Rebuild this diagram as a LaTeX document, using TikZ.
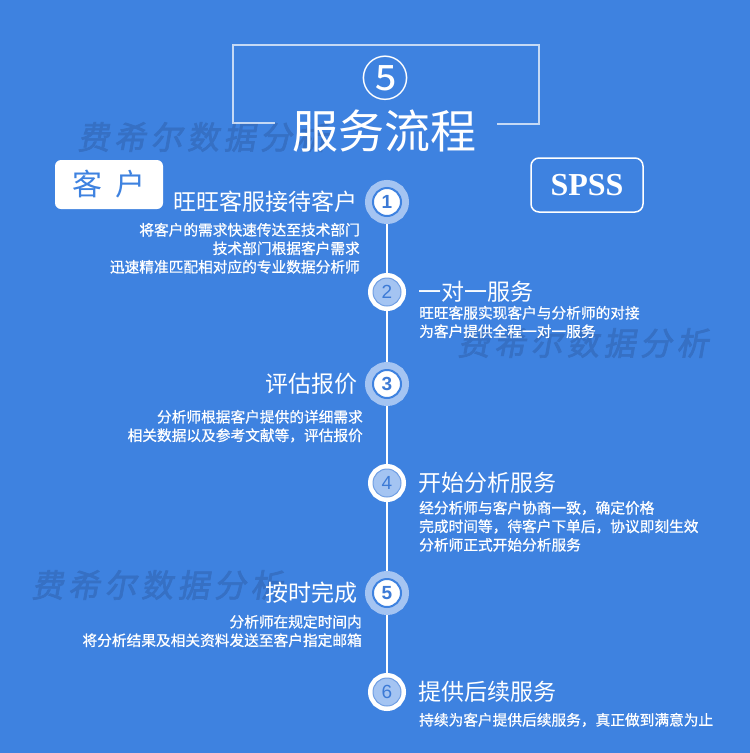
\documentclass[tikz,border=0pt]{standalone}
\usepackage{fontspec}
\usetikzlibrary{positioning}
\newfontfamily\cjk{Noto Sans CJK SC}
\newfontfamily\cjkdesc[FakeBold=0.8]{Noto Sans CJK SC}
\newfontfamily\markfont[FakeBold=2,FakeSlant=0.18,LetterSpace=14]{Noto Sans CJK SC}
\newfontfamily\numfont{Liberation Sans}
\newfontfamily\spssfont{Liberation Serif}
\definecolor{FlowBlue}{HTML}{3E82E0}
\definecolor{RingBlue}{HTML}{A4C4F2}
\definecolor{NumBlue}{HTML}{3C7AD6}
\definecolor{MarkBlue}{HTML}{3670C4}

\tikzset{
  stepodd/.style={circle,minimum size=28pt,inner sep=0pt,outer sep=8pt,
    fill=white,draw=FlowBlue,line width=2pt,preaction={draw=RingBlue,line width=16pt},
    text=NumBlue,font=\numfont\bfseries\fontsize{19}{19}\selectfont},
  stepeven/.style={circle,minimum size=28pt,inner sep=0pt,outer sep=5pt,
    fill=RingBlue,draw=NumBlue!50!RingBlue,line width=1pt,preaction={draw=white,line width=10pt},
    text=NumBlue,font=\numfont\fontsize{19}{19}\selectfont},
  steptitle/.style={inner sep=0pt,text=white,font=\cjk\fontsize{23}{23}\selectfont},
  stepdesc/.style={inner sep=0pt,text=white,font=\cjkdesc\fontsize{14.7}{18.5}\selectfont},
  watermark/.style={inner sep=0pt,text=MarkBlue,font=\markfont\fontsize{32}{32}\selectfont}
}

\begin{document}
\begin{tikzpicture}[x=1pt,y=-1pt]
  \useasboundingbox (0,0) rectangle (750,753);
  \fill[FlowBlue] (0,0) rectangle (750,753);

  % watermarks
  \node[watermark] (wm1) at (203,137) {费希尔数据分析};
  \node[watermark] (wm2) at (583,343) {费希尔数据分析};
  \node[watermark] (wm3) at (157,585) {费希尔数据分析};

  % heading
  \draw[white,opacity=.7,line width=1.5pt] (275,123) -- (233,123) -- (233,45)
      -- (539,45) -- (539,124) -- (497,124);
  \node[inner sep=0pt,text=white,font=\cjk\fontsize{48}{48}\selectfont] (no) at (385,78) {⑤};
  \node[inner sep=0pt,text=white,font=\cjk\fontsize{46}{46}\selectfont] (head) at (384,131) {服务流程};

  \node[fill=white,rounded corners=6pt,minimum width=108pt,minimum height=49pt,
      text=FlowBlue,font=\cjk\fontsize{30}{30}\selectfont] (client) at (109,184.5) {客\hspace{14pt}户};
  \node[draw=white,line width=1.5pt,rounded corners=8pt,minimum width=112pt,minimum height=54pt,
      text=white,font=\spssfont\bfseries\fontsize{32}{32}\selectfont] (spss) at (587,185) {SPSS};

  % steps
  \node[stepodd] (s1) at (387,202) {1};
  \node[stepeven] (s2) at (387,292) {2};
  \node[stepodd] (s3) at (387,384) {3};
  \node[stepeven] (s4) at (387,483) {4};
  \node[stepodd] (s5) at (387,593) {5};
  \node[stepeven] (s6) at (387,692) {6};
  \foreach \a/\b in {s1/s2,s2/s3,s3/s4,s4/s5,s5/s6}
    \draw[white,line width=2pt] (\a) -- (\b);

  \node[steptitle,left=7pt of s1] (t1) {旺旺客服接待客户};
  \node[steptitle,right=12pt of s2] (t2) {一对一服务};
  \node[steptitle,left=7pt of s3] (t3) {评估报价};
  \node[steptitle,right=12pt of s4] (t4) {开始分析服务};
  \node[steptitle,left=7pt of s5] (t5) {按时完成};
  \node[steptitle,right=12pt of s6] (t6) {提供后续服务};

  \node[stepdesc,align=right,anchor=north east] (d1) at (360,222.7)
    {将客户的需求快速传达至技术部门\\技术部门根据客户需求\\迅速精准匹配相对应的专业数据分析师};
  \node[stepdesc,align=left,anchor=north west] (d2) at (419,305.7)
    {旺旺客服实现客户与分析师的对接\\为客户提供全程一对一服务};
  \node[stepdesc,align=right,anchor=north east] (d3) at (363,409.7)
    {分析师根据客户提供的详细需求\\相关数据以及参考文献等，评估报价};
  \node[stepdesc,align=left,anchor=north west] (d4) at (419,500.7)
    {经分析师与客户协商一致，确定价格\\完成时间等，待客户下单后，协议即刻生效\\分析师正式开始分析服务};
  \node[stepdesc,align=right,anchor=north east] (d5) at (362,614.7)
    {分析师在规定时间内\\将分析结果及相关资料发送至客户指定邮箱};
  \node[stepdesc,align=left,anchor=north west] (d6) at (419,712.7)
    {持续为客户提供后续服务，真正做到满意为止};
\end{tikzpicture}
\end{document}
